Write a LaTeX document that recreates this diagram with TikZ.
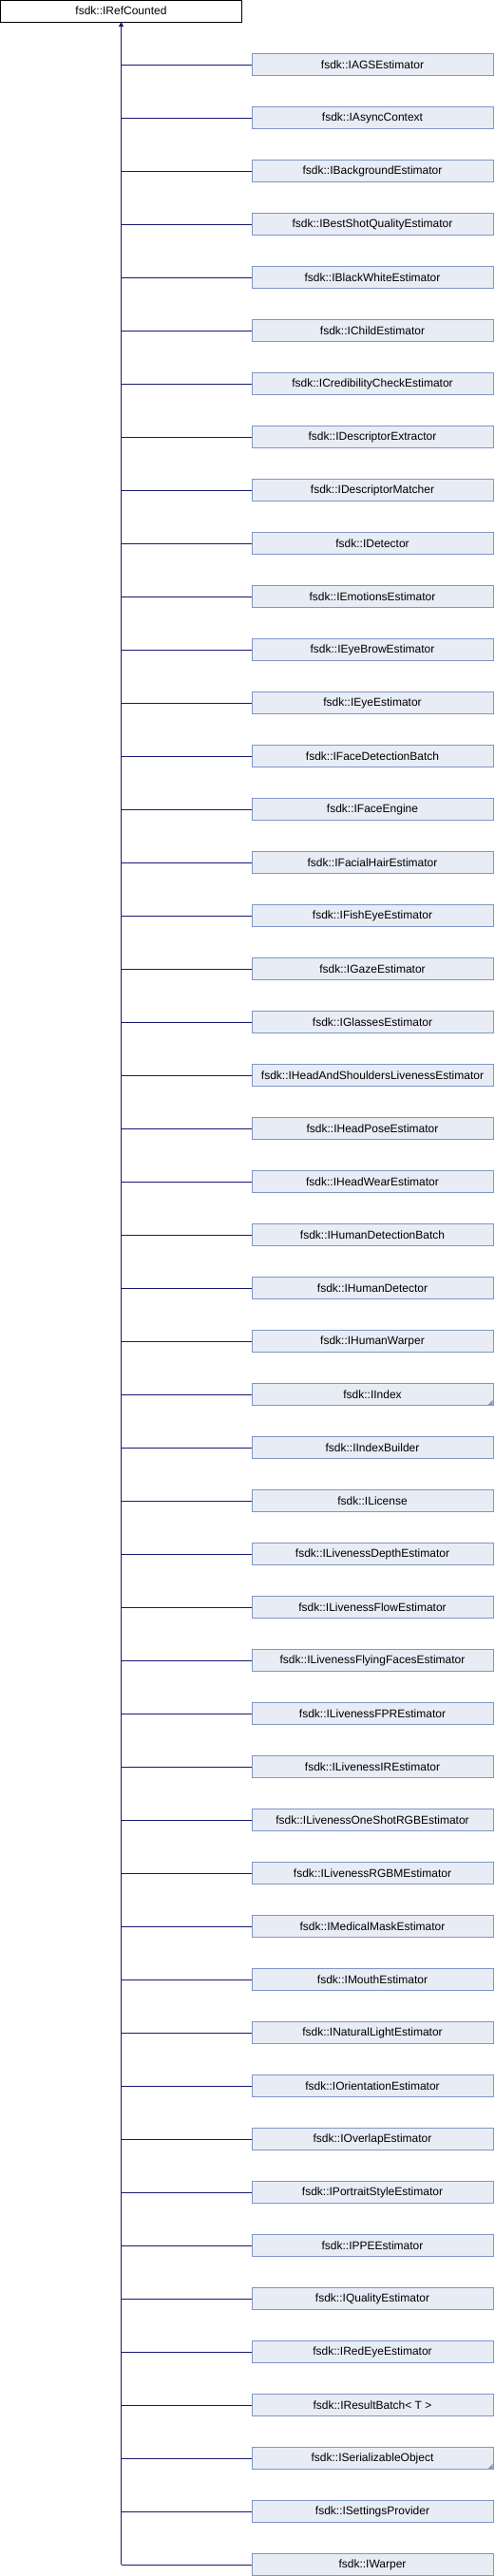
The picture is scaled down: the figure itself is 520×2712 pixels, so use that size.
\documentclass[tikz,border=0pt]{standalone}
\usepackage{fontspec}
\setmainfont{Liberation Sans}
\usetikzlibrary{arrows.meta, positioning}
\definecolor{lineaHerencia}{HTML}{191970}
\definecolor{fondoClase}{HTML}{E8ECF5}
\definecolor{bordeClase}{HTML}{8096C8}

\begin{document}
\begin{tikzpicture}[x=1pt, y=1pt,
        base/.style={draw=black, fill=white, line width=0.9pt, minimum width=254pt,
            minimum height=23pt, inner sep=0pt, outer sep=0pt, font=\fontsize{12}{14}\selectfont},
        clase/.style={draw=bordeClase, fill=fondoClase, line width=0.9pt, minimum width=254pt,
            minimum height=23pt, inner sep=0pt, outer sep=0pt, font=\fontsize{12}{14}\selectfont},
        rel/.style={lineaHerencia, line width=0.9pt},
        herencia/.style={rel, -{Triangle[length=5pt, width=5pt]}},
        esquina/.style={fill=bordeClase}
    ]
        \useasboundingbox (0,0) rectangle (520,-2712);
        \node[base] (root) at (127.5,-11.5) {fsdk::IRefCounted};

        \node[clase] (ags) at (392,-68) {fsdk::IAGSEstimator};
        \node[clase, below=33pt of ags] (async) {fsdk::IAsyncContext};
        \node[clase, below=33pt of async] (background) {fsdk::IBackgroundEstimator};
        \node[clase, below=33pt of background] (bestshot) {fsdk::IBestShotQualityEstimator};
        \node[clase, below=33pt of bestshot] (blackwhite) {fsdk::IBlackWhiteEstimator};
        \node[clase, below=33pt of blackwhite] (child) {fsdk::IChildEstimator};
        \node[clase, below=33pt of child] (credibility) {fsdk::ICredibilityCheckEstimator};
        \node[clase, below=33pt of credibility] (descextractor) {fsdk::IDescriptorExtractor};
        \node[clase, below=33pt of descextractor] (descmatcher) {fsdk::IDescriptorMatcher};
        \node[clase, below=33pt of descmatcher] (detector) {fsdk::IDetector};
        \node[clase, below=33pt of detector] (emotions) {fsdk::IEmotionsEstimator};
        \node[clase, below=33pt of emotions] (eyebrow) {fsdk::IEyeBrowEstimator};
        \node[clase, below=33pt of eyebrow] (eye) {fsdk::IEyeEstimator};
        \node[clase, below=33pt of eye] (facebatch) {fsdk::IFaceDetectionBatch};
        \node[clase, below=33pt of facebatch] (faceengine) {fsdk::IFaceEngine};
        \node[clase, below=33pt of faceengine] (facialhair) {fsdk::IFacialHairEstimator};
        \node[clase, below=33pt of facialhair] (fisheye) {fsdk::IFishEyeEstimator};
        \node[clase, below=33pt of fisheye] (gaze) {fsdk::IGazeEstimator};
        \node[clase, below=33pt of gaze] (glasses) {fsdk::IGlassesEstimator};
        \node[clase, below=33pt of glasses] (headshoulders) {fsdk::IHeadAndShouldersLivenessEstimator};
        \node[clase, below=33pt of headshoulders] (headpose) {fsdk::IHeadPoseEstimator};
        \node[clase, below=33pt of headpose] (headwear) {fsdk::IHeadWearEstimator};
        \node[clase, below=33pt of headwear] (humanbatch) {fsdk::IHumanDetectionBatch};
        \node[clase, below=33pt of humanbatch] (humandetector) {fsdk::IHumanDetector};
        \node[clase, below=33pt of humandetector] (humanwarper) {fsdk::IHumanWarper};
        \node[clase, below=33pt of humanwarper] (index) {fsdk::IIndex};
        \node[clase, below=33pt of index] (indexbuilder) {fsdk::IIndexBuilder};
        \node[clase, below=33pt of indexbuilder] (license) {fsdk::ILicense};
        \node[clase, below=33pt of license] (livdepth) {fsdk::ILivenessDepthEstimator};
        \node[clase, below=33pt of livdepth] (livflow) {fsdk::ILivenessFlowEstimator};
        \node[clase, below=33pt of livflow] (livflying) {fsdk::ILivenessFlyingFacesEstimator};
        \node[clase, below=33pt of livflying] (livfpr) {fsdk::ILivenessFPREstimator};
        \node[clase, below=33pt of livfpr] (livir) {fsdk::ILivenessIREstimator};
        \node[clase, below=33pt of livir] (livoneshot) {fsdk::ILivenessOneShotRGBEstimator};
        \node[clase, below=33pt of livoneshot] (livrgbm) {fsdk::ILivenessRGBMEstimator};
        \node[clase, below=33pt of livrgbm] (medicalmask) {fsdk::IMedicalMaskEstimator};
        \node[clase, below=33pt of medicalmask] (mouth) {fsdk::IMouthEstimator};
        \node[clase, below=33pt of mouth] (naturallight) {fsdk::INaturalLightEstimator};
        \node[clase, below=33pt of naturallight] (orientation) {fsdk::IOrientationEstimator};
        \node[clase, below=33pt of orientation] (overlap) {fsdk::IOverlapEstimator};
        \node[clase, below=33pt of overlap] (portrait) {fsdk::IPortraitStyleEstimator};
        \node[clase, below=33pt of portrait] (ppe) {fsdk::IPPEEstimator};
        \node[clase, below=33pt of ppe] (quality) {fsdk::IQualityEstimator};
        \node[clase, below=33pt of quality] (redeye) {fsdk::IRedEyeEstimator};
        \node[clase, below=33pt of redeye] (resultbatch) {fsdk::IResultBatch< T >};
        \node[clase, below=33pt of resultbatch] (serializable) {fsdk::ISerializableObject};
        \node[clase, below=33pt of serializable] (settings) {fsdk::ISettingsProvider};
        \node[clase, below=33pt of settings] (warper) {fsdk::IWarper};

        % marcas de clases con mas hijos
        \fill[esquina] ([shift={(-0.5,0.5)}]index.south east) -- ++(-5,0) -- ++(5,5) -- cycle;
        \fill[esquina] ([shift={(-0.5,0.5)}]serializable.south east) -- ++(-5,0) -- ++(5,5) -- cycle;

        \coordinate (trunkEnd) at (root.south |- warper.west);
        \draw[herencia] (trunkEnd) -- (root.south);
        \foreach \hijo in {ags, async, background, bestshot, blackwhite, child, credibility,
            descextractor, descmatcher, detector, emotions, eyebrow, eye, facebatch, faceengine,
            facialhair, fisheye, gaze, glasses, headshoulders, headpose, headwear, humanbatch,
            humandetector, humanwarper, index, indexbuilder, license, livdepth, livflow, livflying,
            livfpr, livir, livoneshot, livrgbm, medicalmask, mouth, naturallight, orientation,
            overlap, portrait, ppe, quality, redeye, resultbatch, serializable, settings, warper}
            \draw[rel] (root.south |- \hijo.west) -- (\hijo.west);
    \end{tikzpicture}
\end{document}
